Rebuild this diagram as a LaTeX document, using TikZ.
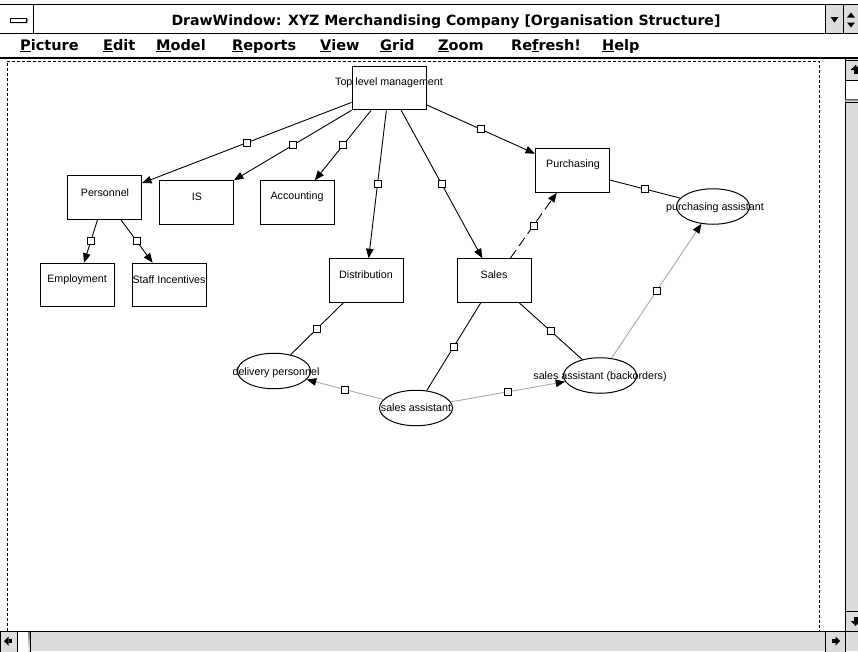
\documentclass[tikz,border=0pt]{standalone}
\usepackage{fontspec}
\setmainfont{Liberation Sans}
\newfontfamily\chromefont{DejaVu Sans}
\usetikzlibrary{arrows.meta,shapes.geometric}
\definecolor{chrome}{HTML}{DCDCDC}
\definecolor{softlink}{HTML}{A8A8A8}
\definecolor{shade}{HTML}{808080}
\begin{document}
\begin{tikzpicture}[x=1pt,y=-1pt,
  box/.style={draw,line width=1pt,rectangle,minimum width=74pt,minimum height=43.5pt,inner sep=0pt},
  oval/.style={draw,line width=1pt,ellipse,minimum width=73pt,minimum height=35.5pt,inner sep=0pt},
  lbl/.style={font=\fontsize{10.7}{12}\selectfont,inner sep=0pt},
  ttl/.style={font=\chromefont\fontsize{14.1}{17}\selectfont\bfseries,inner sep=0pt},
  menu/.style={font=\chromefont\fontsize{14.5}{17}\selectfont\bfseries,inner sep=0pt,anchor=base west},
  link/.style={line width=0.9pt},
  soft/.style={link,draw=softlink},
  tip/.style={-{Triangle[length=9.5pt,width=7.5pt,color=black]}},
  mk/.style={solid,draw=black,fill=white,line width=0.9pt,minimum size=7pt,inner sep=0pt,rectangle},
  btn/.style={fill=chrome,draw=black,line width=0.8pt},
  glyph/.style={fill=black}
]
\useasboundingbox (0,0) rectangle (858,651);
\fill[white] (0,0) rectangle (858,651);

% ---- title bar ----
\draw[line width=1pt] (0,4.5) -- (858,4.5);
\draw[line width=1pt] (0,33) -- (858,33);
\draw[line width=1pt] (33,4.5) -- (33,33);
\fill[shade] (11,19.5) rectangle (28,24);
\draw[fill=white,line width=0.8pt] (10,18) rectangle (26.5,22.5);
\node[ttl] (title) at (446,21.5) {DrawWindow: XYZ Merchandising Company [Organisation Structure]};
\fill[chrome] (826,5) rectangle (858,32.5);
\draw[line width=1pt] (825.5,4.5) -- (825.5,33);
\draw[line width=1pt] (843.5,4.5) -- (843.5,33);
\fill[glyph] (830.5,17) -- (838.5,17) -- (834.5,22.5) -- cycle;
\fill[glyph] (847,17.5) -- (855,17.5) -- (851,12.5) -- cycle;
\fill[glyph] (847,22.5) -- (855,22.5) -- (851,27.5) -- cycle;

% ---- menu bar ----
\node[menu] (m1) at (20,50) {\underline{P}icture};
\node[menu] (m2) at (103,50) {\underline{E}dit};
\node[menu] (m3) at (156,50) {\underline{M}odel};
\node[menu] (m4) at (232,50) {\underline{R}eports};
\node[menu] (m5) at (320,50) {\underline{V}iew};
\node[menu] (m6) at (380,50) {\underline{G}rid};
\node[menu] (m7) at (438,50) {\underline{Z}oom};
\node[menu] (m8) at (511,50) {Re\underline{f}resh!};
\node[menu] (m9) at (602,50) {\underline{H}elp};
\draw[line width=1.2pt] (0,58) -- (858,58);

% ---- drawing area frame ----
\draw[line width=1pt,dash pattern=on 3pt off 2pt] (7.5,631) -- (7.5,61) -- (819,61) -- (819,631);

% ---- vertical scroll bar ----
\fill[chrome] (845,58.6) rectangle (858,631);
\draw[line width=1pt] (845,58.6) -- (845,631);
\draw[btn] (845,60) rectangle (860,80);
\fill[glyph] (850.5,70) -- (855.5,65) -- (860,70) -- cycle;
\fill[glyph] (853.5,70) rectangle (857.5,74);
\draw[fill=white,draw=black,line width=0.8pt] (845,80) rectangle (860,102);
\fill[shade] (845.5,99.5) rectangle (860,101.6);
\draw[btn] (845,611) rectangle (860,631);
\fill[glyph] (850.5,621) -- (855.5,626) -- (860,621) -- cycle;
\fill[glyph] (853.5,617) rectangle (857.5,621);

% ---- horizontal scroll bar ----
\fill[chrome] (0,631) rectangle (858,651);
\draw[line width=1pt] (0,631) -- (858,631);
\draw[btn] (0,631) rectangle (17,652);
\fill[glyph] (4,641) -- (8.5,636.5) -- (8.5,645.5) -- cycle;
\fill[glyph] (8.5,639) rectangle (12,643);
\draw[fill=white,draw=black,line width=0.8pt] (17,631) rectangle (30,652);
\fill[shade] (28,632) rectangle (29.6,652);
\draw[btn] (825,631) rectangle (845,652);
\fill[glyph] (840,641) -- (835.5,636.5) -- (835.5,645.5) -- cycle;
\fill[glyph] (831.5,639) rectangle (835.5,643);
\draw[line width=1pt] (845,631) -- (845,651);

% ---- organisation units ----
\node[box] (top)   at (389,88)     {};
\node[box] (pers)  at (104.5,197.5){};
\node[box] (is)    at (196.5,202.5){};
\node[box] (acct)  at (297,202.5)  {};
\node[box] (empl)  at (77,285)     {};
\node[box] (staff) at (169,285)    {};
\node[box] (dist)  at (366,280.5)  {};
\node[box] (sales) at (494.5,280.5){};
\node[box] (purch) at (572.5,170.5){};

% ---- roles ----
\node[oval] (pa)  at (713,206.5) {};
\node[oval] (dp)  at (274,371)   {};
\node[oval] (sa)  at (416,408)   {};
\node[oval] (sab) at (600,375.5) {};

% ---- labels ----
\node[lbl] (top-t)   at (389,83)  {Top level management};
\node[lbl] (pers-t)  at (105,193) {Personnel};
\node[lbl] (is-t)    at (197,197) {IS};
\node[lbl] (acct-t)  at (297,197) {Accounting};
\node[lbl] (empl-t)  at (77,280)  {Employment};
\node[lbl] (staff-t) at (169,280) {Staff Incentives};
\node[lbl] (dist-t)  at (366,275) {Distribution};
\node[lbl] (sales-t) at (494,275) {Sales};
\node[lbl] (purch-t) at (573,165) {Purchasing};
\node[lbl] (pa-t)    at (715,208) {purchasing assistant};
\node[lbl] (dp-t)    at (276,373) {delivery personnel};
\node[lbl] (sa-t)    at (416,408) {sales assistant};
\node[lbl] (sab-t)   at (600,377) {sales assistant (backorders)};

% ---- reporting lines ----
\draw[link,tip] (top) -- node[mk]{} (pers);
\draw[link,tip] (top) -- node[mk]{} (is);
\draw[link,tip] (top) -- node[mk]{} (acct);
\draw[link,tip] (top) -- node[mk]{} (dist);
\draw[link,tip] (top) -- node[mk]{} (sales);
\draw[link,tip] (top) -- node[mk]{} (purch);
\draw[link,tip] (pers) -- node[mk]{} (empl);
\draw[link,tip] (pers) -- node[mk]{} (staff);
\draw[link,tip,dash pattern=on 10pt off 5pt] (sales) -- node[mk]{} (purch);

% ---- role assignments ----
\draw[link] (purch) -- node[mk]{} (pa);
\draw[link] (dist) -- node[mk]{} (dp);
\draw[link] (sales) -- node[mk]{} (sa);
\draw[link] (sales) -- node[mk]{} (sab);

% ---- role interactions ----
\draw[soft,tip] (sa) -- node[mk]{} (dp);
\draw[soft,tip] (sa) -- node[mk]{} (sab);
\draw[soft,tip] (sab) -- node[mk]{} (pa);
\end{tikzpicture}
\end{document}
